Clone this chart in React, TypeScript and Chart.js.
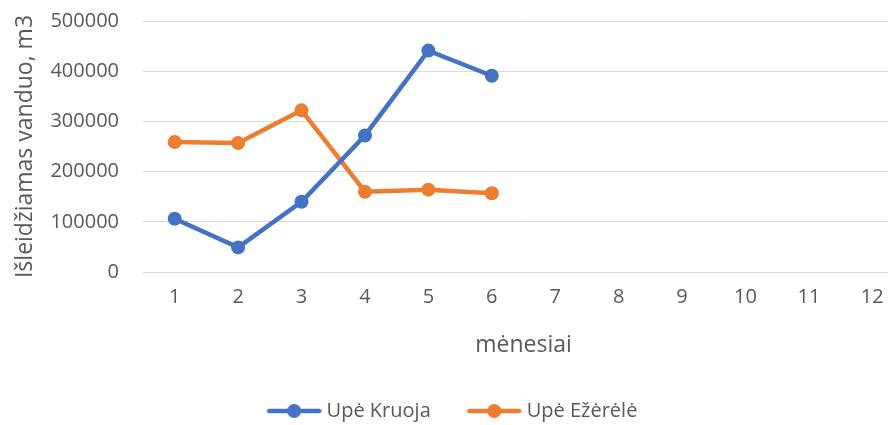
import React, { useEffect, useRef } from "react";
import { Chart, registerables } from "chart.js";

Chart.register(...registerables);

const months = ["1", "2", "3", "4", "5", "6", "7", "8", "9", "10", "11", "12"];
const kruoja = [106000, 49000, 140000, 272000, 441000, 391000];
const ezerele = [259000, 257000, 322000, 160000, 164000, 157000];
const seriesNames = ["Upė Kruoja", "Upė Ežėrėlė"];
const seriesColors = ["#4472C4", "#ED7D31"];
const yTitle = "Išleidžiamas vanduo, m3";
const xTitle = "mėnesiai";

const FONT = "'Open Sans', sans-serif";
const TEXT = "#595959";
const BOX_W = 50;

function legendIcon(color: string): HTMLCanvasElement {
  const c = document.createElement("canvas");
  c.width = 60;
  c.height = 16;
  const ctx = c.getContext("2d")!;
  ctx.strokeStyle = color;
  ctx.lineWidth = 4.5;
  ctx.lineCap = "round";
  ctx.beginPath();
  ctx.moveTo(7.5, 8);
  ctx.lineTo(57.5, 8);
  ctx.stroke();
  ctx.fillStyle = color;
  ctx.beginPath();
  ctx.arc(32.5, 8, 7, 0, Math.PI * 2);
  ctx.fill();
  return c;
}

export default function App() {
  const ref = useRef<HTMLCanvasElement | null>(null);

  useEffect(() => {
    if (!ref.current) return;
    const icons = seriesColors.map(legendIcon);
    const chart = new Chart(ref.current, {
      type: "line",
      data: {
        labels: months,
        datasets: [kruoja, ezerele].map((d, i) => ({
          label: seriesNames[i],
          data: d,
          borderColor: seriesColors[i],
          backgroundColor: seriesColors[i],
          pointBackgroundColor: seriesColors[i],
          pointBorderWidth: 0,
          pointRadius: 7,
          pointHoverRadius: 7,
          borderWidth: 4.5,
          tension: 0,
          fill: false,
        })),
      },
      options: {
        responsive: false,
        animation: false,
        layout: { padding: { left: 0, top: 21, right: 16, bottom: -6 } },
        plugins: {
          tooltip: { enabled: false },
          legend: {
            position: "bottom",
            labels: {
              usePointStyle: true,
              pointStyleWidth: BOX_W,
              color: TEXT,
              font: { family: FONT, size: 20 },
              padding: 36,
              generateLabels: (ch: any) =>
                ch.data.datasets.map((ds: any, i: number) => ({
                  text: ds.label,
                  fillStyle: seriesColors[i],
                  strokeStyle: seriesColors[i],
                  lineWidth: 0,
                  pointStyle: icons[i],
                  hidden: false,
                  datasetIndex: i,
                  fontColor: TEXT,
                })),
            },
          },
        },
        scales: {
          x: {
            type: "category",
            offset: true,
            grid: { display: false, drawTicks: false },
            border: { display: true, color: "#d9d9d9", width: 1 },
            ticks: { color: TEXT, font: { family: FONT, size: 20 }, padding: 13, maxRotation: 0 },
            title: {
              display: true,
              text: xTitle,
              color: TEXT,
              font: { family: FONT, size: 23 },
              padding: { top: 0, bottom: 6 },
            },
            afterFit: (s: any) => {
              s.height = 93;
            },
          },
          y: {
            min: 0,
            max: 500000,
            grid: { color: "#d9d9d9", lineWidth: 1, drawTicks: false },
            border: { display: false },
            ticks: {
              stepSize: 100000,
              color: TEXT,
              font: { family: FONT, size: 20 },
              padding: 24,
              callback: (v: any) => String(v),
            },
            title: {
              display: true,
              text: yTitle,
              color: TEXT,
              font: { family: FONT, size: 23 },
              padding: { top: 12, bottom: 0 },
            },
            afterFit: (s: any) => {
              s.width = 143;
              s.paddingTop = 12;
              s.paddingBottom = 12;
            },
          },
        },
      },
    });
    return () => chart.destroy();
  }, []);

  return (
    <div
      style={{
        position: "fixed",
        left: 0,
        top: 0,
        width: 888,
        height: 425,
        overflow: "hidden",
        background: "#fff",
      }}
    >
      <canvas ref={ref} width={920} height={425} style={{ width: 920, height: 425, display: "block" }} />
    </div>
  );
}
